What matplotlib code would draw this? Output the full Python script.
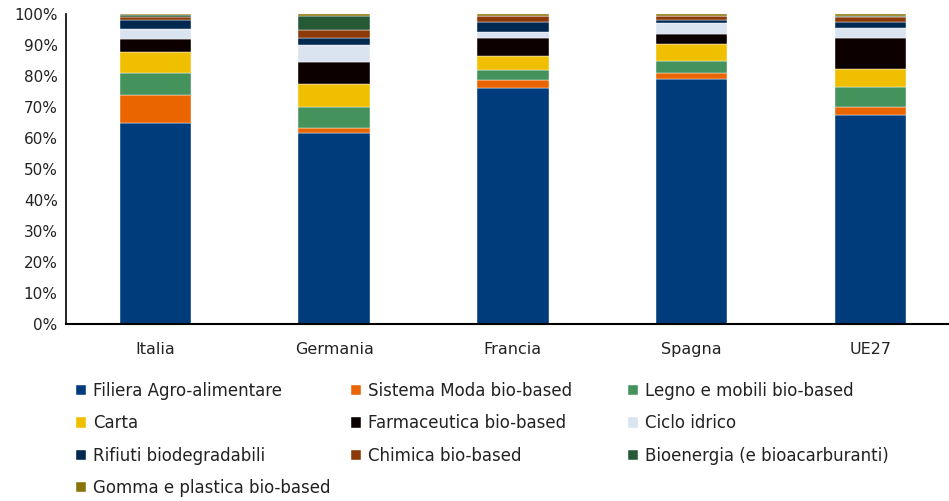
import matplotlib
matplotlib.use("Agg")
import matplotlib.pyplot as plt
import numpy as np

countries = ["Italia", "Germania", "Francia", "Spagna", "UE27"]
sectors = ["Filiera Agro-alimentare", "Sistema Moda bio-based", "Legno e mobili bio-based",
           "Carta", "Farmaceutica bio-based", "Ciclo idrico",
           "Rifiuti biodegradabili", "Chimica bio-based", "Bioenergia (e bioacarburanti)",
           "Gomma e plastica bio-based"]
filiera     = [64.6, 61.7, 75.9, 79.1, 67.2]
moda        = [9.2, 1.6, 2.6, 1.8, 2.7]
legno       = [6.9, 6.8, 3.5, 4.0, 6.3]
carta       = [6.8, 7.4, 4.4, 5.2, 6.0]
farma       = [4.3, 6.9, 5.9, 3.4, 9.8]
ciclo       = [3.3, 5.6, 1.7, 3.4, 3.3]
rifiuti     = [2.8, 2.4, 3.4, 1.0, 1.8]
chimica     = [1.0, 2.4, 1.8, 1.3, 1.6]
bioenergia  = [0.6, 4.7, 0.2, 0.2, 0.6]
gomma       = [0.3, 0.5, 0.5, 0.5, 0.5]

series = [filiera, moda, legno, carta, farma, ciclo, rifiuti, chimica, bioenergia, gomma]
colors = ["#003C7C", "#EA6500", "#44925C", "#EFBF00", "#0C0000", "#DAE3F0",
          "#002850", "#8C3A07", "#265A37", "#8A720A"]

data = np.array(series, dtype=float)
data = data / data.sum(axis=0) * 100.0

plt.rcParams['font.family'] = ['DejaVu Sans']
W, H = 949, 501
fig = plt.figure(figsize=(W / 100, H / 100), dpi=100)
left_px, top_px, bottom_px = 66, 14, 324
ax = fig.add_axes([left_px / W, (H - bottom_px) / H, (W - left_px) / W, (bottom_px - top_px) / H])

x = np.arange(len(countries))
bottom = np.zeros(len(countries))
handles = []
for vals, c, lab in zip(data, colors, sectors):
    b = ax.bar(x, vals, width=0.40, bottom=bottom, color=c, label=lab,
               edgecolor="white", linewidth=0.3)
    handles.append(b)
    bottom += vals

step = 178.75
ax.set_xlim(-0.5, -0.5 + (W - left_px) / step)
ax.set_ylim(0, 100)
ax.set_yticks(np.arange(0, 101, 10))
ax.set_yticklabels([f"{v}%" for v in range(0, 101, 10)], fontsize=11, color="#222222")
ax.set_xticks(x)
ax.set_xticklabels(countries, fontsize=11.5, color="#222222")
ax.tick_params(axis="y", length=0, pad=6)
ax.tick_params(axis="x", length=0, pad=13)
for s in ["top", "right"]:
    ax.spines[s].set_visible(False)
ax.spines["left"].set_linewidth(1.2)
ax.spines["bottom"].set_linewidth(1.5)

cols = [[0, 3, 6, 9], [1, 4, 7], [2, 5, 8]]
col_x = [76, 351, 628]
for cx, idxs in zip(col_x, cols):
    leg = fig.legend([handles[i] for i in idxs], [sectors[i] for i in idxs],
                     loc="upper left", bbox_to_anchor=(cx / W, (H - 382) / H),
                     frameon=False, fontsize=12, handlelength=0.6, handleheight=0.6,
                     handletextpad=0.4, labelspacing=0.86, borderpad=0, borderaxespad=0)
    for t in leg.get_texts():
        t.set_color("#222222")

fig.savefig("out.png", dpi=100)
